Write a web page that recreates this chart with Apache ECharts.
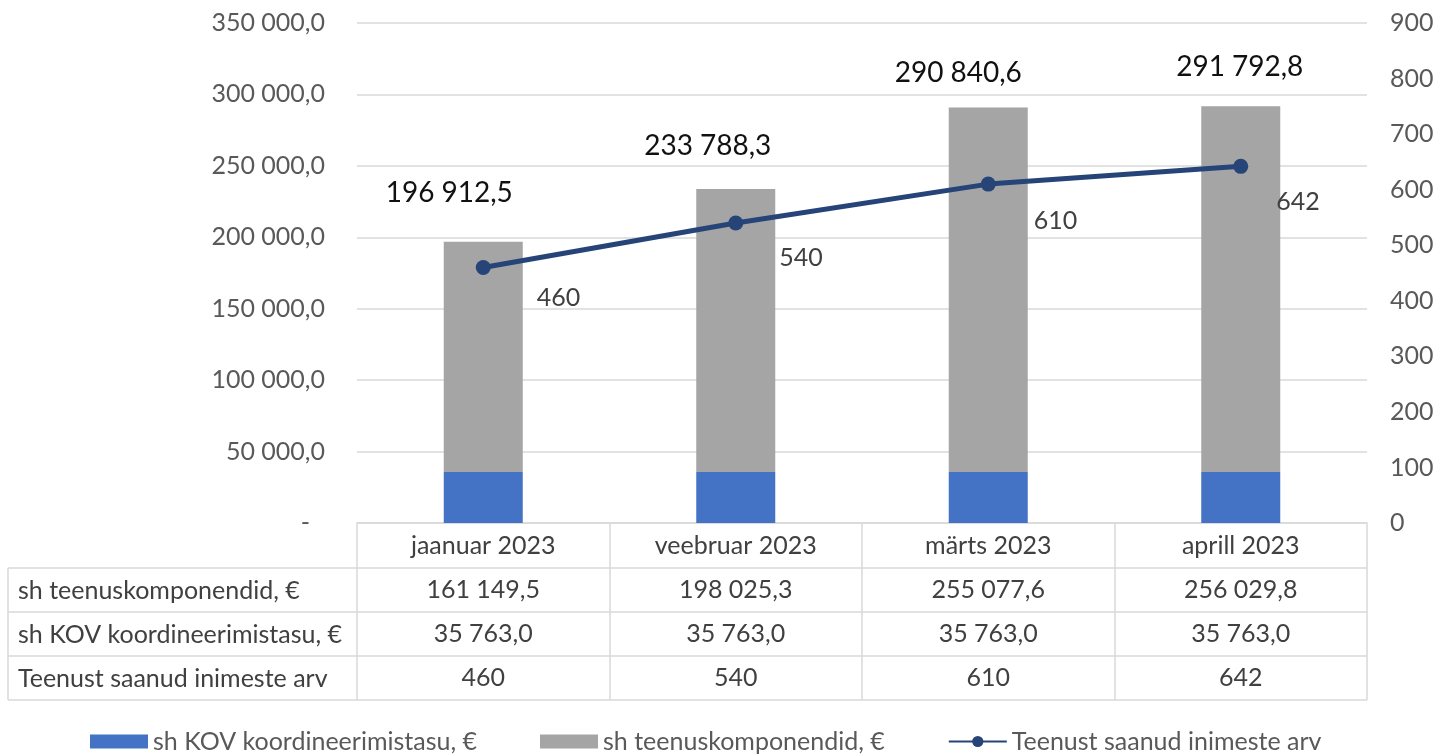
<!DOCTYPE html>
<html>
<head>
<meta charset="utf-8">
<script src="https://cdn.jsdelivr.net/npm/echarts@6/dist/echarts.min.js"></script>
<style>
html,body{margin:0;padding:0;background:#fff;}
#c{width:1440px;height:754px;}
</style>
</head>
<body>
<div id="c"></div>
<script>
const categories = ['jaanuar 2023', 'veebruar 2023', 'märts 2023', 'aprill 2023'];
const teenus = [161149.5, 198025.3, 255077.6, 256029.8];
const kov = [35763.0, 35763.0, 35763.0, 35763.0];
const inimesed = [460, 540, 610, 642];
const totals = [196912.5, 233788.3, 290840.6, 291792.8];
const seriesNames = ['sh KOV koordineerimistasu, €', 'sh teenuskomponendid, €', 'Teenust saanud inimeste arv'];
const rowHeaders = ['sh teenuskomponendid, €', 'sh KOV koordineerimistasu, €', 'Teenust saanud inimeste arv'];

// label placement (style, not data)
const totalLabelOffsets = [[-34, -30], [-28, -24], [-30, -16], [-1, -20]];
const lineLabelOffsets = [[41, 30], [31, 35], [33, 37], [23, 36]];

const FONT = 'Lato, "Open Sans", sans-serif';
const FS = 25;
const GL = 357, GR = 1367, GT = 23, GB = 523, W = 1440, H = 754;

function fmt(v, dec) {
  const s = v.toFixed(dec);
  let [ip, dp] = s.split('.');
  ip = ip.replace(/\B(?=(\d{3})+(?!\d))/g, '\u00a0');
  return dp !== undefined ? ip + ',' + dp : ip;
}

const chart = echarts.init(document.getElementById('c'));

const rowYs = [568, 612, 656, 700];
const graphics = [];
rowYs.forEach(y => {
  graphics.push({type: 'line', shape: {x1: 8, y1: y, x2: GR, y2: y}, style: {stroke: '#d9d9d9', lineWidth: 1.5}, silent: true});
});
graphics.push({type: 'line', shape: {x1: 8, y1: 568, x2: 8, y2: 700}, style: {stroke: '#d9d9d9', lineWidth: 1.5}, silent: true});
rowHeaders.forEach((t, i) => {
  graphics.push({type: 'text', x: 18, y: (rowYs[i] + rowYs[i + 1]) / 2 + 1, style: {text: t, font: FS + 'px ' + FONT, fill: '#404040', textVerticalAlign: 'middle', textAlign: 'left'}, silent: true});
});

chart.setOption({
  animation: false,
  backgroundColor: '#fff',
  textStyle: {fontFamily: FONT},
  grid: {left: GL, right: W - GR, top: GT, bottom: H - GB, containLabel: false},
  legend: {
    left: 90, top: 729, padding: 0, itemGap: 63,
    itemWidth: 58, itemHeight: 14,
    textStyle: {fontSize: FS, color: '#595959', fontFamily: FONT},
    data: [
      {name: seriesNames[0], icon: 'rect'},
      {name: seriesNames[1], icon: 'rect'},
      {name: seriesNames[2]}
    ]
  },
  xAxis: {
    type: 'category',
    data: categories,
    boundaryGap: true,
    axisLine: {show: true, lineStyle: {color: '#d9d9d9', width: 1.5}},
    axisTick: {show: true, length: 177, lineStyle: {color: '#d9d9d9', width: 1.5}},
    axisLabel: {
      interval: 0, margin: 1, fontSize: FS, color: '#404040', lineHeight: 44, fontFamily: FONT,
      formatter: (v, i) => [v, fmt(teenus[i], 1), fmt(kov[i], 1), String(inimesed[i])].join('\n')
    }
  },
  yAxis: [
    {
      type: 'value', min: 0, max: 350000, interval: 50000,
      axisLine: {show: false}, axisTick: {show: false},
      splitLine: {show: true, lineStyle: {color: '#d9d9d9', width: 1.5}},
      axisLabel: {
        margin: 32, fontSize: FS, color: '#595959', fontFamily: FONT,
        formatter: v => v === 0 ? '{d|-}' : fmt(v, 1),
        rich: {d: {fontSize: FS, color: '#595959', padding: [0, 15, 0, 0]}}
      }
    },
    {
      type: 'value', min: 0, max: 900, interval: 100,
      axisLine: {show: false}, axisTick: {show: false}, splitLine: {show: false},
      axisLabel: {margin: 23, fontSize: FS, color: '#595959', fontFamily: FONT}
    }
  ],
  series: [
    {
      name: seriesNames[0], type: 'bar', stack: 'total', barWidth: 79,
      itemStyle: {color: '#4472C4'},
      data: kov
    },
    {
      name: seriesNames[1], type: 'bar', stack: 'total', barWidth: 79,
      itemStyle: {color: '#A5A5A5'},
      data: teenus.map((v, i) => ({
        value: v,
        label: {offset: totalLabelOffsets[i]}
      })),
      label: {
        show: true, position: 'top', fontSize: 28, color: '#111', fontFamily: FONT,
        formatter: p => fmt(totals[p.dataIndex], 1)
      }
    },
    {
      name: seriesNames[2], type: 'line', yAxisIndex: 1,
      data: inimesed.map((v, i) => ({
        value: v,
        label: {offset: lineLabelOffsets[i]}
      })),
      symbol: 'circle', symbolSize: 15,
      lineStyle: {color: '#264478', width: 5},
      itemStyle: {color: '#264478'},
      label: {show: true, position: 'right', fontSize: FS, color: '#404040', fontFamily: FONT}
    }
  ],
  graphic: graphics
});
</script>
</body>
</html>
